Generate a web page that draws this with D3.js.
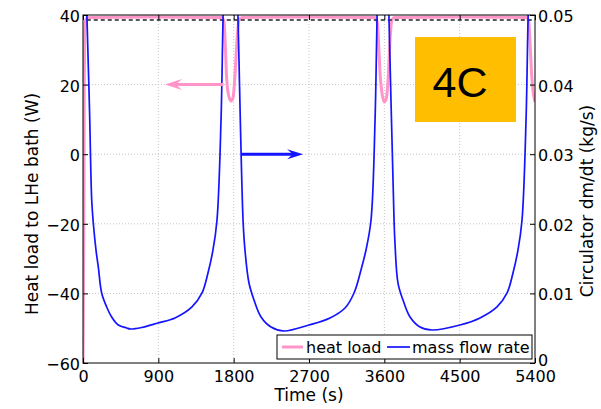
<!DOCTYPE html>
<html>
<head>
<meta charset="utf-8">
<script src="https://cdn.jsdelivr.net/npm/d3@7"></script>
<style>
  body { margin: 0; background: #fff; }
  text { font-family: "DejaVu Sans", sans-serif; }
</style>
</head>
<body>
<div id="chart"></div>
<script>
// tick values
const timeTicks = [0, 900, 1800, 2700, 3600, 4500, 5400]
const heatTicks = [40, 20, 0, -20, -40, -60]
const flowTicks = [0.05, 0.04, 0.03, 0.02, 0.01, 0]

// heat load to LHe bath (W)
const heatTime = [0, 10, 15, 20, 30, 50, 100, 800, 1661, 1685, 1702, 1714, 1732, 1768, 1792, 1816, 1840, 1864, 1900, 2700,
  3490, 3515, 3535, 3550, 3570, 3600, 3625, 3648, 3668, 3690, 3720, 4500, 5300, 5325, 5345, 5360, 5378, 5400]
const heatLoad = [-60, -20, 20, 34, 38.3, 39.2, 39.3, 39.4, 39.3, 38, 30, 22.8, 17.9, 15.3, 16.2, 22.8, 32.8, 38.6, 39.3, 39.4,
  39.3, 38, 30, 22.8, 17.9, 15, 16.2, 22.8, 32.8, 38.6, 39.3, 39.4, 39.3, 38, 30, 22.8, 17.9, 15]

// circulator mass flow rate (kg/s)
const flowTime = [35, 48, 78, 104, 123, 155, 183, 223, 283, 343, 422, 522, 561, 700, 896, 1099, 1302, 1422, 1493, 1553, 1601, 1649, 1673, 1690,
  1835, 1852, 1912, 1935, 1983, 2043, 2127, 2246, 2401, 2700, 2951, 3130, 3238, 3321, 3381, 3441, 3489, 3513, 3530,
  3640, 3656, 3716, 3727, 3763, 3823, 3907, 4026, 4169, 4504, 4743, 4946, 5066, 5137, 5197, 5245, 5293, 5317, 5335, 5400]
const flowRate = [0.056, 0.0493, 0.03635, 0.02342, 0.02011, 0.01624, 0.01379, 0.01006, 0.00805, 0.00661, 0.00546, 0.00503, 0.00489, 0.0051, 0.00575, 0.00647, 0.00805, 0.01006, 0.01293, 0.01624, 0.02055, 0.03491, 0.0493, 0.056,
  0.056, 0.0493, 0.02055, 0.01624, 0.01149, 0.00905, 0.00661, 0.00517, 0.0046, 0.00546, 0.00647, 0.0079, 0.01006, 0.01336, 0.01624, 0.02055, 0.03491, 0.0493, 0.056,
  0.056, 0.0493, 0.02055, 0.01724, 0.01149, 0.00905, 0.00661, 0.00517, 0.00474, 0.00546, 0.00647, 0.00805, 0.01006, 0.01293, 0.01624, 0.02055, 0.03491, 0.0493, 0.056, 0.056]

// dashed reference level (W)
const refTime = [45, 5400]
const refLevel = [38.56, 38.56]

// annotation arrows
const heatArrow = { from: 1680, to: 980, value: 20 }
const flowArrow = { from: 1890, to: 2630, value: 0.03 }

const pink = '#ff94c8'
const blue = '#1414ff'

const margin = { top: 15, right: 66, bottom: 46, left: 83 }
const width = 601 - margin.left - margin.right
const height = 409 - margin.top - margin.bottom

const svg = d3.select('#chart')
  .append('svg')
  .attr('width', 601)
  .attr('height', 409)
  .append('g')
  .attr('transform', `translate(${margin.left}, ${margin.top})`)

const x = d3.scaleLinear().domain([0, 5400]).range([0, width])
const yHeat = d3.scaleLinear().domain([-60, 40]).range([height, 0])
const yFlow = d3.scaleLinear().domain([0, 0.05]).range([height, 0])

svg.append('defs').append('clipPath').attr('id', 'plot-clip')
  .append('rect').attr('width', width).attr('height', height)

// grid
const grid = svg.append('g')
  .attr('stroke', '#c4c4c4')
  .attr('stroke-dasharray', '1,2')
  .attr('stroke-width', 1)
grid.selectAll('.gx')
  .data(timeTicks.slice(1, -1))
  .join('line')
  .attr('x1', d => x(d)).attr('x2', d => x(d))
  .attr('y1', 0).attr('y2', height)
grid.selectAll('.gy')
  .data(heatTicks.slice(1, -1))
  .join('line')
  .attr('x1', 0).attr('x2', width)
  .attr('y1', d => yHeat(d)).attr('y2', d => yHeat(d))

const plot = svg.append('g').attr('clip-path', 'url(#plot-clip)')

const heatData = heatTime.map((t, i) => ({ t, v: heatLoad[i] }))
const flowData = flowTime.map((t, i) => ({ t, v: flowRate[i] }))
const refData = refTime.map((t, i) => ({ t, v: refLevel[i] }))

plot.append('path')
  .datum(heatData)
  .attr('fill', 'none')
  .attr('stroke', pink)
  .attr('stroke-width', 3)
  .attr('stroke-linejoin', 'round')
  .attr('d', d3.line().curve(d3.curveMonotoneX).x(d => x(d.t)).y(d => yHeat(d.v)))

plot.append('path')
  .datum(refData)
  .attr('fill', 'none')
  .attr('stroke', '#222')
  .attr('stroke-width', 1.3)
  .attr('stroke-dasharray', '4,3')
  .attr('d', d3.line().x(d => x(d.t)).y(d => yHeat(d.v)))

plot.append('path')
  .datum(flowData)
  .attr('fill', 'none')
  .attr('stroke', blue)
  .attr('stroke-width', 1.7)
  .attr('stroke-linejoin', 'round')
  .attr('d', d3.line().curve(d3.curveCatmullRom.alpha(0.5)).x(d => x(d.t)).y(d => yFlow(d.v)))

// arrows
function arrow(a, yScale, color, len, half) {
  const x0 = x(a.from), x1 = x(a.to), yy = yScale(a.value)
  const dir = Math.sign(x1 - x0)
  svg.append('line')
    .attr('x1', x0).attr('x2', x1 - dir * len * 0.6)
    .attr('y1', yy).attr('y2', yy)
    .attr('stroke', color).attr('stroke-width', 3)
  svg.append('path')
    .attr('fill', color)
    .attr('d', `M${x1},${yy} L${x1 - dir * len},${yy - half} L${x1 - dir * len * 0.65},${yy} L${x1 - dir * len},${yy + half} Z`)
}
arrow(heatArrow, yHeat, pink, 17, 5.5)
arrow(flowArrow, yFlow, blue, 16, 5)

// axes
svg.append('rect')
  .attr('width', width).attr('height', height)
  .attr('fill', 'none').attr('stroke', '#000').attr('stroke-width', 1)

const fontSize = 16
const axisB = svg.append('g').attr('transform', `translate(0, ${height})`)
  .call(d3.axisBottom(x).tickValues(timeTicks).tickSize(-5).tickSizeOuter(0).tickPadding(8).tickFormat(d3.format('d')))
const axisT = svg.append('g')
  .call(d3.axisTop(x).tickValues(timeTicks).tickSize(-5).tickSizeOuter(0).tickFormat(''))
const axisL = svg.append('g')
  .call(d3.axisLeft(yHeat).tickValues(heatTicks).tickSize(-5).tickSizeOuter(0).tickPadding(3))
const axisR = svg.append('g').attr('transform', `translate(${width}, 0)`)
  .call(d3.axisRight(yFlow).tickValues(flowTicks).tickSize(-5).tickSizeOuter(0).tickPadding(3)
    .tickFormat(d => d === 0 ? '0' : d3.format('.2f')(d)))

;[axisB, axisT, axisL, axisR].forEach(g => {
  g.select('.domain').remove()
  g.selectAll('text').attr('font-size', fontSize).attr('fill', '#000').style('font-family', '"DejaVu Sans", sans-serif')
  g.selectAll('line').attr('stroke', '#000')
})
axisL.selectAll('text').attr('dy', '0.4em')
axisR.selectAll('text').attr('dy', d => d === 0 ? '0.18em' : '0.4em')

// axis titles
svg.append('text')
  .attr('x', width / 2).attr('y', height + 38)
  .attr('text-anchor', 'middle').attr('font-size', 17)
  .text('Time (s)')

svg.append('text')
  .attr('transform', `translate(${-45}, ${height / 2 + 15}) rotate(-90)`)
  .attr('text-anchor', 'middle').attr('font-size', 17)
  .text('Heat load to LHe bath (W)')

svg.append('text')
  .attr('transform', `translate(${width + 58}, ${height / 2 + 12}) rotate(-90)`)
  .attr('text-anchor', 'middle').attr('font-size', 17)
  .text('Circulator dm/dt (kg/s)')

// legend
const legend = svg.append('g').attr('transform', `translate(${194}, ${320})`)
legend.append('rect')
  .attr('width', 255).attr('height', 24)
  .attr('fill', '#fff').attr('stroke', '#000').attr('stroke-width', 1)
legend.append('line').attr('x1', 5).attr('x2', 26).attr('y1', 12).attr('y2', 12)
  .attr('stroke', pink).attr('stroke-width', 3)
legend.append('text').attr('x', 29).attr('y', 18).attr('font-size', 16).text('heat load')
legend.append('line').attr('x1', 110).attr('x2', 133).attr('y1', 12).attr('y2', 12)
  .attr('stroke', blue).attr('stroke-width', 1.7)
legend.append('text').attr('x', 135).attr('y', 18).attr('font-size', 16).text('mass flow rate')

// case label
const tag = svg.append('g').attr('transform', `translate(${332}, ${22})`)
tag.append('rect').attr('width', 101).attr('height', 85).attr('fill', '#ffbf00')
tag.append('text')
  .attr('x', 45).attr('y', 60)
  .attr('text-anchor', 'middle')
  .attr('font-size', 43)
  .style('font-family', '"Liberation Sans", Arial, sans-serif')
  .text('4C')
</script>
</body>
</html>
